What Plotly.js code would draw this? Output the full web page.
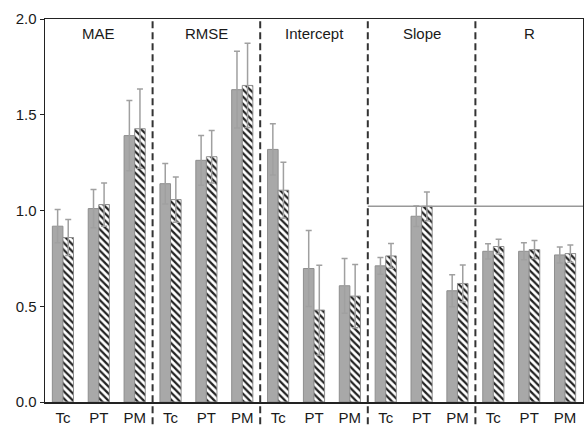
<!DOCTYPE html>
<html>
<head>
<meta charset="utf-8">
<script src="https://cdn.plot.ly/plotly-3.0.1.min.js"></script>
<style>html,body{margin:0;padding:0;background:#fff;}#chart{width:584px;height:426px;}</style>
</head>
<body>
<div id="chart"></div>
<script>
const panels = ["MAE", "RMSE", "Intercept", "Slope", "R"];
const methods = ["Tc", "PT", "PM"];
// solid (gray) series values and errors, in order MAE(Tc,PT,PM), RMSE..., Intercept..., Slope..., R...
const solidVals = [0.918, 1.010, 1.391, 1.140, 1.262, 1.631, 1.319, 0.697, 0.607, 0.711, 0.970, 0.581, 0.787, 0.787, 0.768];
const solidErr  = [0.087, 0.100, 0.184, 0.106, 0.130, 0.200, 0.134, 0.198, 0.143, 0.044, 0.054, 0.083, 0.040, 0.044, 0.042];
// hatched series values and errors
const hatchVals = [0.859, 1.031, 1.427, 1.057, 1.281, 1.653, 1.106, 0.480, 0.553, 0.763, 1.022, 0.619, 0.812, 0.796, 0.775];
const hatchErr  = [0.094, 0.113, 0.207, 0.118, 0.137, 0.220, 0.146, 0.234, 0.165, 0.065, 0.075, 0.097, 0.038, 0.047, 0.045];
const refLine = 1.022;

const xs = [];
const tickText = [];
panels.forEach((p, i) => methods.forEach((m, j) => { xs.push(i * 3 + j); tickText.push(m); }));

const errStyle = (arr) => ({type: "data", array: arr, visible: true, color: "#a0a0a0", thickness: 1.5, width: 3});

const traces = [
  {type: "bar", x: xs, y: solidVals, error_y: errStyle(solidErr),
   marker: {color: "#a8a8a8", line: {color: "#8e8e8e", width: 1}}, hoverinfo: "skip"},
  {type: "bar", x: xs, y: hatchVals, error_y: errStyle(hatchErr),
   marker: {color: "white", line: {color: "#8e8e8e", width: 1},
            pattern: {shape: "\\", fgcolor: "#222", bgcolor: "white", size: 5, solidity: 0.45}}, hoverinfo: "skip"}
];

const shapes = [];
for (let k = 1; k < panels.length; k++) {
  shapes.push({type: "line", xref: "x", yref: "paper", x0: k * 3 - 0.5, x1: k * 3 - 0.5, y0: -0.058, y1: 1,
               line: {color: "#333", width: 2, dash: "7px,4px"}});
}
shapes.push({type: "line", xref: "x", yref: "y", x0: 8.5, x1: 14.5, y0: refLine, y1: refLine,
             line: {color: "#999", width: 1.5}});

const annotations = panels.map((p, i) => ({
  x: i * 3 + 1, y: 1.924, xref: "x", yref: "y", text: p, showarrow: false,
  font: {family: "Liberation Sans, Arial, sans-serif", size: 15, color: "#1a1a1a"}, yanchor: "middle"
}));

const layout = {
  width: 584, height: 426,
  margin: {l: 45, r: 1, t: 19, b: 24, pad: 0},
  paper_bgcolor: "white", plot_bgcolor: "white",
  showlegend: false,
  barmode: "group", bargap: 0.41, bargroupgap: 0,
  font: {family: "Liberation Sans, Arial, sans-serif", size: 15, color: "#1a1a1a"},
  xaxis: {range: [-0.5, 14.5], tickvals: xs, ticktext: tickText, showgrid: false, zeroline: false,
          showline: true, linecolor: "#222", linewidth: 1.5, mirror: true, ticks: "outside", ticklen: 1,
          tickcolor: "rgba(0,0,0,0)", tickfont: {size: 15}},
  yaxis: {range: [0, 2.0], tickvals: [0, 0.5, 1.0, 1.5, 2.0], ticktext: ["0.0", "0.5", "1.0", "1.5", "2.0"],
          showgrid: false, zeroline: false, showline: true, linecolor: "#222", linewidth: 1.5, mirror: true,
          ticks: "outside", ticklen: 4, tickcolor: "#222", tickfont: {size: 15}},
  shapes: shapes,
  annotations: annotations
};

Plotly.newPlot("chart", traces, layout, {staticPlot: true, displayModeBar: false});
</script>
</body>
</html>
